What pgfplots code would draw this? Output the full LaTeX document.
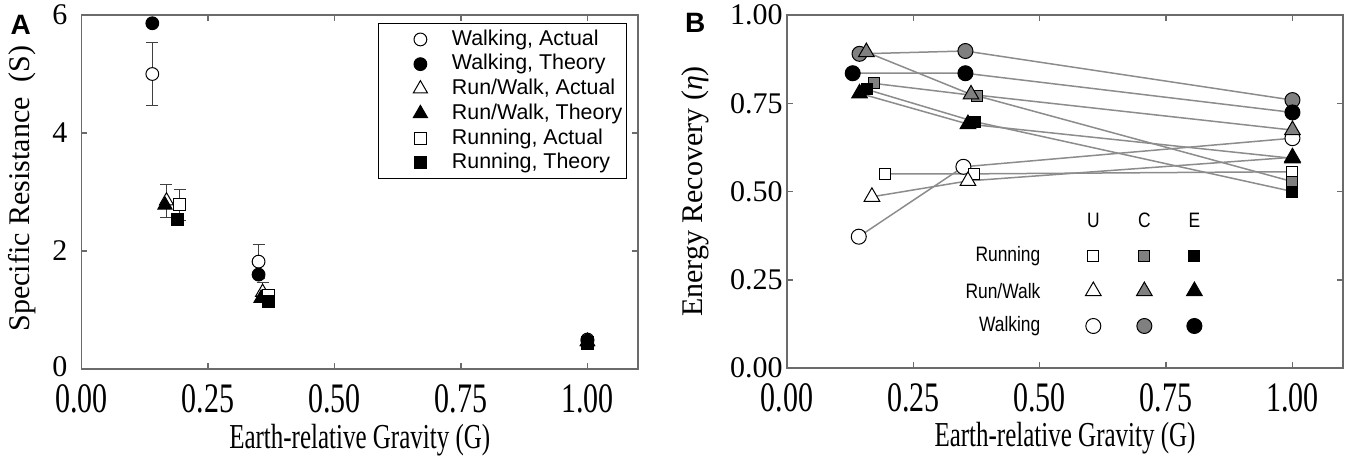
\documentclass[border=0pt]{standalone}
\usepackage{fontspec}
\setmainfont{Liberation Serif}
\newfontfamily\arialfont{Liberation Sans}
\usepackage{graphicx}
\usepackage{pgfplots}
\usepackage{pgfplotstable}
\pgfplotsset{compat=1.18}

\definecolor{framec}{gray}{0.42}
\definecolor{linec}{gray}{0.55}
\definecolor{midgray}{gray}{0.5}
\definecolor{errc}{gray}{0.25}

\newcommand\xs[1]{\scalebox{1}[1.4]{#1}}
\newcommand\tickfont{\fontsize{15}{18}\selectfont}
\newcommand\legfont{\arialfont\fontsize{10.7}{12}\selectfont}
\newcommand\blegfont{\arialfont\fontsize{8.7}{10}\selectfont}
\newcommand\bl[1]{\scalebox{1}[1.2]{#1}}
\newcommand\letterfont{\arialfont\bfseries\fontsize{14}{16}\selectfont}

% ---------- Panel A data ----------
\pgfplotstableread{
x y e
0.140 5.00 0.53
0.350 1.82 0.29
1.000 0.50 0.04
}\WalkAct
\pgfplotstableread{
x y
0.140 5.86
0.350 1.60
1.000 0.48
}\WalkThe
\pgfplotstableread{
x y e
0.168 2.85 0.28
0.358 1.30 0.17
1.000 0.47 0.04
}\RWAct
\pgfplotstableread{
x y
0.165 2.78
0.355 1.20
1.000 0.46
}\RWThe
\pgfplotstableread{
x y e
0.194 2.78 0.26
0.369 1.25 0.10
1.000 0.45 0.04
}\RunAct
\pgfplotstableread{
x y
0.190 2.53
0.369 1.14
1.000 0.44
}\RunThe

% ---------- Panel B data ----------
\pgfplotstableread{
x y
0.142 0.372
0.349 0.570
1.000 0.651
}\WalkU
\pgfplotstableread{
x y
0.1435 0.890
0.353 0.898
1.000 0.759
}\WalkC
\pgfplotstableread{
x y
0.130 0.835
0.353 0.835
1.000 0.724
}\WalkE
\pgfplotstableread{
x y
0.168 0.485
0.358 0.530
1.000 0.597
}\RWU
\pgfplotstableread{
x y
0.157 0.895
0.364 0.775
1.000 0.674
}\RWC
\pgfplotstableread{
x y
0.1435 0.778
0.358 0.691
1.000 0.594
}\RWE
\pgfplotstableread{
x y
0.193 0.550
0.369 0.550
1.000 0.556
}\RunU
\pgfplotstableread{
x y
0.173 0.806
0.376 0.771
1.000 0.528
}\RunC
\pgfplotstableread{
x y
0.158 0.789
0.371 0.698
1.000 0.500
}\RunE

\pgfplotsset{
  common/.style={
    scale only axis, xmin=0, xmax=1.1, clip=false,
    axis line style={framec, line width=0.75pt},
    tick style={framec, line width=0.75pt},
    tick align=inside, major tick length=3pt,
    xtick={0,0.25,0.5,0.75,1},
    xticklabels={\xs{0.00},\xs{0.25},\xs{0.50},\xs{0.75},\xs{1.00}},
    tick label style={font=\tickfont},
    xlabel={\xs{Earth-relative Gravity (G)}},
    xlabel style={at={(axis description cs:0.5,-0.2)}, anchor=center, font=\fontsize{12.5}{15}\selectfont},
    ylabel style={anchor=center, font=\fontsize{15}{18}\selectfont},
  },
  amark/.style={only marks,
    legend image code/.code={\path (-20.5pt,0pt) (13.5pt,0pt); \draw[##1,only marks] plot coordinates {(0pt,0pt)};}},
  ebar/.style={error bars/.cd, y dir=both, y explicit,
    error bar style={errc, line width=0.6pt},
    error mark options={errc, mark size=3pt, line width=0.6pt, rotate=90}},
  bU/.style={mark options={fill=white, draw=black, line width=0.5pt}},
  bC/.style={mark options={fill=midgray, draw=black, line width=0.5pt}},
  bE/.style={mark options={fill=black, draw=black, line width=0.5pt}},
  bline/.style={linec, line width=0.75pt, no markers, forget plot},
}

\begin{document}
\begin{tikzpicture}
\useasboundingbox (-40.75pt,-46.5pt) rectangle (634.25pt,184.5pt);

% ================= Panel A =================
\begin{axis}[common,
  width=278.25pt, height=177pt,
  ymin=0, ymax=6, ytick={0,2,4,6}, yticklabels={\raisebox{2.5pt}{0},2,4,6},
  y tick label style={xshift=-3.5pt},
  x tick label style={yshift=-4pt},
  ylabel={Specific Resistance~ (S)},
  ylabel style={at={(axis description cs:-0.107,0.51)}},
  legend style={at={(rel axis cs:0.980,0.977)}, anchor=north east,
    draw=black, line width=0.5pt, fill=white,
    inner xsep=0pt, inner ysep=2.5pt, font=\legfont,
    nodes={inner xsep=2pt, inner ysep=0pt, text height=8.3pt, text depth=2.5pt},
    row sep=1.55pt},
  legend cell align=left,
]
\addplot[amark, mark=*, mark size=3.2pt, bU, ebar] table[x=x,y=y,y error=e] {\WalkAct};
\addlegendentry{Walking, Actual}
\addplot[amark, mark=*, mark size=3.2pt, bE] table[x=x,y=y] {\WalkThe};
\addlegendentry{Walking, Theory}
\addplot[amark, mark=triangle*, mark size=4.1pt, bU, ebar] table[x=x,y=y,y error=e] {\RWAct};
\addlegendentry{Run/Walk, Actual}
\addplot[amark, mark=triangle*, mark size=4.1pt, bE] table[x=x,y=y] {\RWThe};
\addlegendentry{Run/Walk, Theory}
\addplot[amark, mark=square*, mark size=3pt, bU, ebar] table[x=x,y=y,y error=e] {\RunAct};
\addlegendentry{Running, Actual}
\addplot[amark, mark=square*, mark size=3pt, bE] table[x=x,y=y] {\RunThe};
\addlegendentry{Running, Theory}
\node[font=\letterfont] at (axis description cs:-0.109,0.972) {A};
\end{axis}

% ================= Panel B =================
\begin{axis}[common,
  at={(352.75pt,0.5pt)},
  width=278pt, height=176.5pt,
  ymin=0, ymax=1, ytick={0,0.25,0.5,0.75,1},
  yticklabels={0.00,0.25,0.50,0.75,1.00},
  y tick label style={xshift=1.3pt},
  x tick label style={yshift=-4pt},
  ylabel={Energy Recovery (\textit{η})},
  ylabel style={at={(axis description cs:-0.164,0.50)}},
]
% connecting lines
\addplot[bline] table[x=x,y=y] {\WalkU};
\addplot[bline] table[x=x,y=y] {\WalkC};
\addplot[bline] table[x=x,y=y] {\WalkE};
\addplot[bline] table[x=x,y=y] {\RWU};
\addplot[bline] table[x=x,y=y] {\RWC};
\addplot[bline] table[x=x,y=y] {\RWE};
\addplot[bline] table[x=x,y=y] {\RunU};
\addplot[bline] table[x=x,y=y] {\RunC};
\addplot[bline] table[x=x,y=y] {\RunE};
% markers
\addplot[only marks, mark=*, mark size=3.75pt, bU] table[x=x,y=y] {\WalkU};
\addplot[only marks, mark=square*, mark size=2.75pt, bU] table[x=x,y=y] {\RunU};
\addplot[only marks, mark=square*, mark size=2.75pt, bC] table[x=x,y=y] {\RunC};
\addplot[only marks, mark=square*, mark size=2.75pt, bE] table[x=x,y=y] {\RunE};
\addplot[only marks, mark=triangle*, mark size=4.5pt, bU] table[x=x,y=y] {\RWU};
\addplot[only marks, mark=*, mark size=3.75pt, bC] table[x=x,y=y] {\WalkC};
\addplot[only marks, mark=*, mark size=3.75pt, bE] table[x=x,y=y] {\WalkE};
\addplot[only marks, mark=triangle*, mark size=4.5pt, bC] table[x=x,y=y] {\RWC};
\addplot[only marks, mark=triangle*, mark size=4.5pt, bE] table[x=x,y=y] {\RWE};

% key grid (U / C / E)
\addplot[only marks, mark=square*, mark size=2.75pt, bU] coordinates {(0.606,0.317)};
\addplot[only marks, mark=square*, mark size=2.75pt, bC] coordinates {(0.707,0.317)};
\addplot[only marks, mark=square*, mark size=2.75pt, bE] coordinates {(0.806,0.317)};
\addplot[only marks, mark=triangle*, mark size=4.5pt, bU] coordinates {(0.606,0.218)};
\addplot[only marks, mark=triangle*, mark size=4.5pt, bC] coordinates {(0.707,0.218)};
\addplot[only marks, mark=triangle*, mark size=4.5pt, bE] coordinates {(0.806,0.218)};
\addplot[only marks, mark=*, mark size=3.75pt, bU] coordinates {(0.606,0.119)};
\addplot[only marks, mark=*, mark size=3.75pt, bC] coordinates {(0.707,0.119)};
\addplot[only marks, mark=*, mark size=3.75pt, bE] coordinates {(0.806,0.119)};
\node[font=\blegfont] at (axis cs:0.606,0.419) {\bl{U}};
\node[font=\blegfont] at (axis cs:0.707,0.419) {\bl{C}};
\node[font=\blegfont] at (axis cs:0.806,0.419) {\bl{E}};
\node[font=\blegfont, anchor=east, inner sep=0pt] at (axis cs:0.502,0.317) {\bl{Running}};
\node[font=\blegfont, anchor=east, inner sep=0pt] at (axis cs:0.502,0.218) {\bl{Run/Walk}};
\node[font=\blegfont, anchor=east, inner sep=0pt] at (axis cs:0.502,0.119) {\bl{Walking}};
\node[font=\letterfont] at (axis description cs:-0.165,0.977) {B};
\end{axis}
\end{tikzpicture}
\end{document}
